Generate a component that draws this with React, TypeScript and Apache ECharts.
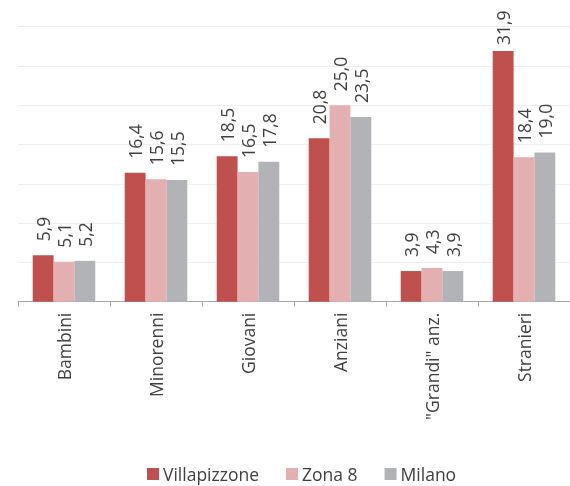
import React, { useEffect, useRef } from "react";
import * as echarts from "echarts";

const categories = ["Bambini", "Minorenni", "Giovani", "Anziani", "\"Grandi\" anz.", "Stranieri"];
const villapizzone = [5.9, 16.4, 18.5, 20.8, 3.9, 31.9];
const zona8 = [5.1, 15.6, 16.5, 25.0, 4.3, 18.4];
const milano = [5.2, 15.5, 17.8, 23.5, 3.9, 19.0];
const seriesNames = ["Villapizzone", "Zona 8", "Milano"];
const colors = ["#c0504d", "#e4afb0", "#b2b3b7"];

const FONT = "Open Sans";
const FS = 17.5;

export default function App() {
  const ref = useRef<HTMLDivElement>(null);
  useEffect(() => {
    if (!ref.current) return;
    const chart = echarts.init(ref.current, undefined, { renderer: "svg" });
    const mk = (name: string, data: number[], color: string) => ({
      name,
      type: "bar",
      // labels near the top edge are pushed down closer to the bar, as in the reference
      data: data.map((v) => (v > 30 ? { value: v, label: { distance: 6 } } : v)),
      itemStyle: { color },
      barGap: "0%",
      barCategoryGap: "32%",
      label: {
        show: true,
        position: "top",
        rotate: 90,
        align: "left",
        verticalAlign: "middle",
        distance: 14,
        fontSize: FS,
        fontFamily: FONT,
        color: "#404040",
        formatter: (p: any) => Number(p.value).toFixed(1).replace(".", ","),
      },
    });
    chart.setOption({
      animation: false,
      textStyle: { fontFamily: FONT },
      grid: { left: 18, top: 26.7, width: 560, height: 275, containLabel: false },
      legend: {
        data: seriesNames,
        top: 465,
        left: 147,
        padding: 0,
        icon: "rect",
        itemWidth: 12,
        itemHeight: 12,
        itemGap: 27,
        textStyle: { fontSize: FS, fontFamily: FONT, color: "#404040", padding: [0, 0, 0, -1] },
      },
      xAxis: {
        type: "category",
        data: categories,
        axisLine: { lineStyle: { color: "#a6a6a6" } },
        axisTick: { show: true, length: 5, lineStyle: { color: "#a6a6a6" } },
        axisLabel: {
          rotate: 90,
          fontSize: FS,
          fontFamily: FONT,
          color: "#404040",
          margin: 11,
          interval: 0,
        },
      },
      yAxis: {
        type: "value",
        min: 0,
        max: 35,
        interval: 5,
        axisLabel: { show: false },
        axisLine: { show: false },
        axisTick: { show: false },
        splitLine: { lineStyle: { color: "#eeeeee", width: 1 } },
      },
      series: [
        mk(seriesNames[0], villapizzone, colors[0]),
        mk(seriesNames[1], zona8, colors[1]),
        mk(seriesNames[2], milano, colors[2]),
      ],
    });
    return () => chart.dispose();
  }, []);
  return (
    <div
      ref={ref}
      style={{ position: "fixed", left: 0, top: 0, width: 570, height: 486 }}
    />
  );
}
